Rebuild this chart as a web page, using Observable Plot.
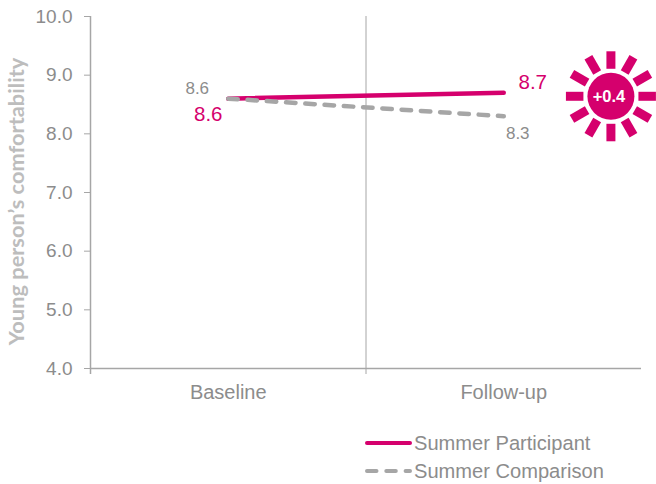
<!DOCTYPE html>
<html>
<head>
<meta charset="utf-8">
<script src="https://cdn.jsdelivr.net/npm/d3@7"></script>
<script src="https://cdn.jsdelivr.net/npm/@observablehq/plot@0.6"></script>
<style>
  html, body { margin: 0; padding: 0; background: #fff; }
  #chart svg { display: block; }
  #legend { font: 20.1px "Liberation Sans", Arial, sans-serif; color: #8c8c8c; padding-left: 365px; margin-top: 3px; }
  #legend .row { display: flex; align-items: center; height: 28px; }
  #legend svg { display: block; margin-right: 2px; }
</style>
</head>
<body>
<div id="chart"></div>
<div id="legend"></div>
<script>
const periods = ["Baseline", "Follow-up"];
const participant = [8.6, 8.7];
const comparison = [8.6, 8.3];
const yTicks = [4, 5, 6, 7, 8, 9, 10];
const seriesNames = ["Summer Participant", "Summer Comparison"];
const yTitle = "Young person’s comfortability";

const PINK = "#d5006d";
const GREY = "#a6a6a6";
const TEXT = "#8c8c8c";
const FONT = '"Liberation Sans", Arial, sans-serif';

// Positions on the x axis: each period sits at its index, boundaries at the half steps.
const toRows = (values) => values.map((v, i) => ({i, v}));

// Difference between the two groups at follow-up, shown in the badge.
const gain = participant[1] - comparison[1];
const badge = {x: 1.389, y: 8.64};
const rayAngles = d3.range(0, 360, 30);
const rayShape = {
  draw(context, l) {
    context.moveTo(0, -27.5);
    context.lineTo(0, -l);
  }
};

const chart = Plot.plot({
  width: 656,
  height: 426,
  marginLeft: 90,
  marginRight: 15,
  marginTop: 16,
  marginBottom: 58,
  style: {fontFamily: FONT, background: "#fff", overflow: "visible"},
  x: {type: "linear", domain: [-0.5, 1.5], axis: null},
  y: {type: "linear", domain: [4, 10], axis: null},
  marks: [
    Plot.ruleX([0.5], {y1: 10, y2: 4, stroke: GREY, strokeWidth: 1, insetBottom: -6}),
    Plot.ruleX([-0.5], {y1: 10, y2: 4, stroke: GREY, strokeWidth: 1.5, insetBottom: -6}),
    Plot.ruleY([4], {stroke: GREY, strokeWidth: 1.5}),
    Plot.axisY({
      ticks: yTicks,
      tickSize: 6,
      tickPadding: 12,
      tickFormat: (d) => d.toFixed(1),
      stroke: GREY,
      color: TEXT,
      fontSize: 19,
      label: null
    }),
    Plot.text([yTitle], {
      frameAnchor: "left",
      textAnchor: "middle",
      rotate: -90,
      dx: -73,
      dy: 9,
      fontFamily: "Lato",
      fontSize: 21.8,
      fontWeight: "bold",
      fill: "#bdbdbd"
    }),
    Plot.text(periods, {
      x: (d, i) => i,
      y: () => 4,
      text: (d) => d,
      dy: 24,
      fontSize: 20,
      fill: TEXT
    }),
    Plot.line(toRows(participant), {
      x: "i", y: "v", stroke: PINK, strokeWidth: 4.5, strokeLinecap: "round"
    }),
    Plot.line(toRows(comparison), {
      x: "i", y: "v", stroke: GREY, strokeWidth: 4.5,
      strokeLinecap: "round", strokeDasharray: "9.5 9.8"
    }),
    // Value labels at each end of the two lines
    Plot.text([comparison[0]], {x: () => 0, y: (d) => d, text: (d) => d.toFixed(1), dx: -31, dy: -10, fontSize: 17, fill: TEXT}),
    Plot.text([participant[0]], {x: () => 0, y: (d) => d, text: (d) => d.toFixed(1), dx: -20, dy: 16, fontSize: 20.5, fill: PINK}),
    Plot.text([participant[1]], {x: () => 1, y: (d) => d, text: (d) => d.toFixed(1), dx: 29, dy: -10, fontSize: 20.5, fill: PINK}),
    Plot.text([comparison[1]], {x: () => 1, y: (d) => d, text: (d) => d.toFixed(1), dx: 14, dy: 17, fontSize: 17, fill: TEXT}),
    // Sun badge: twelve rays around a disc carrying the gain
    Plot.vector(rayAngles, {
      x: () => badge.x,
      y: () => badge.y,
      rotate: (d) => d,
      length: 45,
      anchor: "start",
      shape: rayShape,
      stroke: PINK,
      strokeWidth: 9,
      strokeLinecap: "butt"
    }),
    Plot.dot([badge], {x: "x", y: "y", r: 23.5, fill: PINK}),
    Plot.text([gain], {
      x: () => badge.x,
      y: () => badge.y,
      text: (d) => `+${d.toFixed(1)}`,
      dx: -2,
      fill: "#fff",
      fontSize: 16.5,
      fontWeight: "bold"
    })
  ]
});
document.getElementById("chart").append(chart);

// Legend under the plot, one swatch per series
const legend = d3.select("#legend");
seriesNames.forEach((name, k) => {
  const row = legend.append("div").attr("class", "row");
  const swatch = row.append("svg").attr("width", 47).attr("height", 8);
  swatch.append("line")
    .attr("x1", 2).attr("x2", 45).attr("y1", 4).attr("y2", 4)
    .attr("stroke", k === 0 ? PINK : GREY)
    .attr("stroke-width", 4)
    .attr("stroke-linecap", "round")
    .attr("stroke-dasharray", k === 0 ? null : "9.5 9.8");
  row.append("span").text(name);
});
</script>
</body>
</html>
